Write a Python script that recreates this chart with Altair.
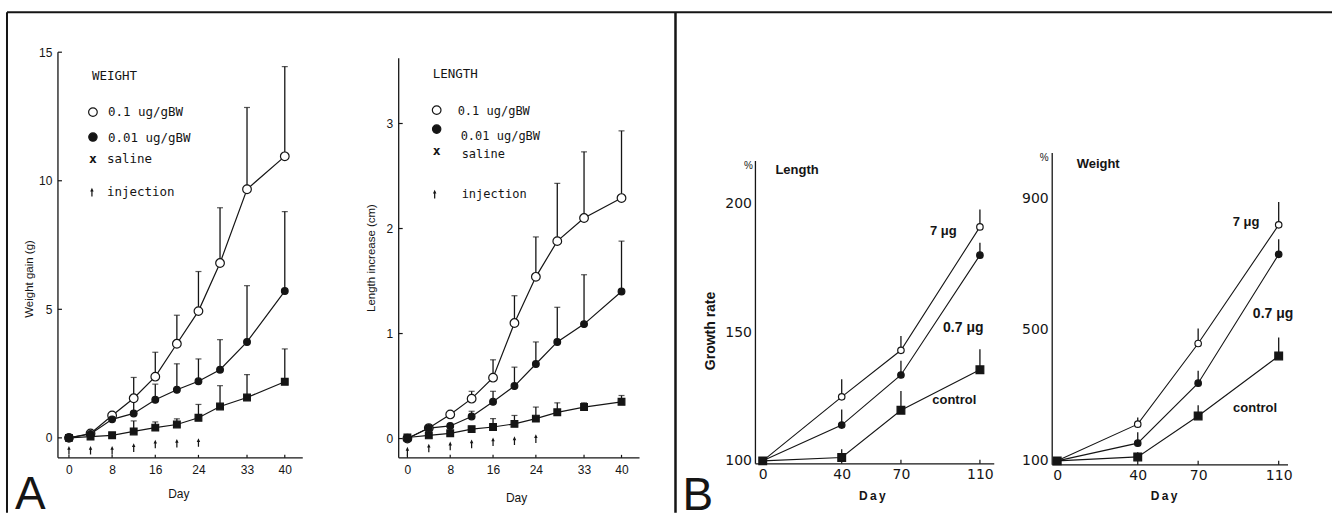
import altair as alt
import pandas as pd

SANS = "Liberation Sans"
WIDE = "DejaVu Sans"
MONO = "DejaVu Sans Mono"
INK = "#151515"

# ---------------- A: injections on days 0-24, follow-up to day 40 ----------------
days_a = [0, 4, 8, 12, 16, 20, 24, 28, 33, 40]
dose_labels_a = ["0.1 ug/gBW", "0.01 ug/gBW", "saline"]

weight_01 = [0, 0.17, 0.87, 1.54, 2.38, 3.66, 4.93, 6.80, 9.67, 10.95]
weight_01_sd = [0, 0, 0, 0.81, 0.95, 1.11, 1.54, 2.15, 3.18, 3.49]
weight_001 = [0, 0.15, 0.72, 0.95, 1.48, 1.87, 2.20, 2.65, 3.73, 5.71]
weight_001_sd = [0, 0, 0, 0.68, 0.61, 1.01, 0.87, 1.17, 2.19, 3.09]
weight_sal = [0, 0.05, 0.10, 0.25, 0.40, 0.52, 0.78, 1.22, 1.57, 2.18]
weight_sal_sd = [0, 0, 0, 0.41, 0.22, 0.22, 0.52, 0.81, 0.89, 1.28]

length_01 = [0, 0.10, 0.23, 0.38, 0.58, 1.10, 1.54, 1.88, 2.10, 2.29]
length_01_sd = [0, 0, 0, 0.07, 0.17, 0.26, 0.38, 0.55, 0.63, 0.64]
length_001 = [0, 0.10, 0.12, 0.21, 0.35, 0.50, 0.71, 0.92, 1.09, 1.40]
length_001_sd = [0, 0, 0, 0.05, 0.10, 0.18, 0.21, 0.33, 0.47, 0.48]
length_sal = [0.01, 0.03, 0.05, 0.09, 0.11, 0.14, 0.19, 0.25, 0.30, 0.35]
length_sal_sd = [0, 0, 0, 0, 0.08, 0.08, 0.11, 0.09, 0.04, 0.06]

injection_days = [0, 4, 8, 12, 16, 20, 24]
injection_y_weight = [-0.48, -0.48, -0.48, -0.38, -0.24, -0.21, -0.18]
injection_y_length = [-0.12, -0.09, -0.07, -0.05, -0.03, -0.02, 0.0]

day_ticks_a = [0, 8, 16, 24, 33, 40]
weight_ticks = [0, 5, 10, 15]
length_ticks = [0, 1, 2, 3]

# ---------------- B: growth rate (%) over 110 days ----------------
days_b = [0, 40, 70, 110]
dose_labels_b = ["7 μg", "0.7 μg", "control"]

rate_len_7 = [100, 124.9, 143.0, 191.0]
rate_len_7_sd = [0, 6.8, 5.6, 6.8]
rate_len_07 = [100, 113.9, 133.4, 180.0]
rate_len_07_sd = [0, 6.1, 5.5, 4.8]
rate_len_ctl = [100, 101.3, 119.7, 135.4]
rate_len_ctl_sd = [0, 3.2, 7.5, 8.0]

rate_wt_7 = [100, 212, 458, 820]
rate_wt_7_sd = [0, 20, 46, 70]
rate_wt_07 = [100, 154, 337, 730]
rate_wt_07_sd = [0, 33, 38, 46]
rate_wt_ctl = [100, 112, 237, 420]
rate_wt_ctl_sd = [0, 14, 33, 56]

day_ticks_b = [0, 40, 70, 110]
len_rate_ticks = [100, 150, 200]
wt_rate_ticks = [100, 500, 900]

ONE = pd.DataFrame({"k": [0]})


def long_table(days, series, sds, names):
    rows = []
    for name, vals, sd in zip(names, series, sds):
        for d, v, s in zip(days, vals, sd):
            rows.append({"day": d, "value": v, "sd": s, "group": name})
    return pd.DataFrame(rows)


def label(text, x, y, size, font=SANS, weight="normal", align="left",
          baseline="middle", angle=0):
    return alt.Chart(ONE).mark_text(
        text=text, font=font, fontSize=size, fontWeight=weight, align=align,
        baseline=baseline, color=INK, angle=angle,
    ).encode(x=alt.value(x), y=alt.value(y))


def symbol(shape, x, y, size, fill, sw=1.2):
    return alt.Chart(ONE).mark_point(
        shape=shape, size=size, filled=True, fill=fill, stroke=INK,
        strokeWidth=sw, opacity=1,
    ).encode(x=alt.value(x), y=alt.value(y))


def hline(x0, x1, y, w=1.3):
    return alt.Chart(ONE).mark_rule(color=INK, strokeWidth=w).encode(
        x=alt.value(x0), x2=alt.value(x1), y=alt.value(y))


def vline(x, y0, y1, w=1.3):
    return alt.Chart(ONE).mark_rule(color=INK, strokeWidth=w).encode(
        x=alt.value(x), y=alt.value(y0), y2=alt.value(y1))


ARROW = 75


def series_panel(df, names, W, H, xdom, ydom, xticks, yticks, ax, mk,
                 xline, ytop, extras):
    xs = alt.Scale(domain=xdom, nice=False, zero=False)
    ys = alt.Scale(domain=ydom, nice=False, zero=False)
    xaxis = alt.Axis(values=xticks, title=None, labelFont=ax["font"],
                     labelFontSize=ax["xsize"], labelFontWeight=ax["weight"],
                     labelPadding=ax["xpad"], labelColor=INK, ticks=False,
                     domain=False, grid=False, labelFlush=False,
                     labelOverlap=False, format="d")
    yaxis = alt.Axis(values=yticks, title=None, labelFont=ax["font"],
                     labelFontSize=ax["ysize"], labelFontWeight=ax["weight"],
                     labelPadding=ax["ypad"], labelColor=INK, ticks=False,
                     domain=False, grid=False, labelFlush=False,
                     labelOverlap=False, format="d")

    def X(f):
        return alt.X(f, type="quantitative", scale=xs, axis=xaxis)

    def Y(f):
        return alt.Y(f, type="quantitative", scale=ys, axis=yaxis)

    base = alt.Chart(df)
    with_sd = base.transform_filter("datum.sd > 0").transform_calculate(
        top="datum.value + datum.sd")
    layers = [
        hline(0, xline, H),
        vline(0, ytop, H),
        alt.Chart(pd.DataFrame({"t": xticks})).mark_rule(
            color=INK, strokeWidth=1.2).encode(
            x=X("t"), y=alt.value(H), y2=alt.value(H - mk["tick"])),
        with_sd.mark_rule(color=INK, strokeWidth=mk["ew"]).encode(
            x=X("day"), y=Y("value"), y2=alt.Y2("top")),
    ]
    if mk["ytick"] > 0:
        layers.append(alt.Chart(pd.DataFrame({"t": yticks})).mark_rule(
            color=INK, strokeWidth=1.2).encode(
            y=Y("t"), x=alt.value(0), x2=alt.value(mk["ytick"])))
    if mk["cap"] > 0:
        layers.append(with_sd.mark_tick(
            orient="horizontal", size=mk["cap"], thickness=1.2, color=INK
        ).encode(x=X("day"), y=Y("top")))
    layers.append(base.mark_line(color=INK, strokeWidth=mk["lw"]).encode(
        x=X("day"), y=Y("value"), detail="group:N"))
    styles = [("circle", mk["open"], "white"),
              ("circle", mk["dot"], INK),
              ("square", mk["sq"], INK)]
    for name, (shape, size, fill) in zip(names, styles):
        layers.append(base.transform_filter(alt.datum.group == name).mark_point(
            shape=shape, size=size, filled=True, fill=fill, stroke=INK,
            strokeWidth=1.2, opacity=1,
        ).encode(x=X("day"), y=Y("value")))
    layers.extend(extras(X, Y))
    return alt.layer(*layers).properties(width=W, height=H)


AX_A = {"font": SANS, "xsize": 12, "ysize": 12, "weight": "normal",
        "xpad": 7, "ypad": 6}
MK_A = {"open": 75, "dot": 45, "sq": 45, "lw": 1.2, "ew": 1.3, "cap": 6,
        "tick": 3, "ytick": 4}
AX_B = {"font": WIDE, "xsize": 14, "ysize": 14, "weight": "normal",
        "xpad": 4, "ypad": 4}
MK_B = {"open": 42, "dot": 42, "sq": 60, "lw": 1.1, "ew": 1.3, "cap": 0,
        "tick": 4, "ytick": 0}


def injections(y_values):
    def make(X, Y):
        df = pd.DataFrame({"day": injection_days, "y": y_values})
        return [alt.Chart(df).mark_point(
            shape="arrow", size=ARROW, filled=True, color=INK, opacity=1
        ).encode(x=X("day"), y=Y("y"))]
    return make


def arrow_key(x, y):
    return alt.Chart(ONE).mark_point(
        shape="arrow", size=ARROW, filled=True, color=INK, opacity=1
    ).encode(x=alt.value(x), y=alt.value(y))


# ---- A, weight ----
W0, H0 = 341, 407
weight_df = long_table(days_a, [weight_01, weight_001, weight_sal],
                       [weight_01_sd, weight_001_sd, weight_sal_sd],
                       dose_labels_a)


def extras_a_weight(X, Y):
    return injections(injection_y_weight)(X, Y) + [
        label("WEIGHT", 34, 25, 12.5, font=MONO),
        symbol("circle", 35, 61, 75, "white"),
        label(dose_labels_a[0], 50, 61, 12.5, font=MONO),
        symbol("circle", 35, 86, 70, INK),
        label(dose_labels_a[1], 50, 87, 12.5, font=MONO),
        label("x", 35, 108, 13, font=MONO, weight="bold", align="center"),
        label(dose_labels_a[2], 49, 108, 12.5, font=MONO),
        arrow_key(34, 141),
        label("injection", 49, 141, 12.5, font=MONO),
        label("Weight gain (g)", -28, 228, 11.5, angle=270, align="center"),
        label("Day", 121, 443, 12, align="center"),
        label("A", -43, 458, 46, baseline="alphabetic"),
        # figure frame and the divider between A and B
        vline(-51, -39, 462, 2),
        hline(-51, 1275, -39, 2),
        vline(618, -39, 462, 2.5),
    ]


panel_a_weight = series_panel(
    weight_df, dose_labels_a, W0, H0,
    [-11 / 5.4, (W0 - 11) / 5.4], [-20 / 25.73, 387 / 25.73],
    day_ticks_a, weight_ticks, AX_A, MK_A, 245, 1, extras_a_weight)

# ---- A, length ----
W1, H1 = 357, 407
length_df = long_table(days_a, [length_01, length_001, length_sal],
                       [length_01_sd, length_001_sd, length_sal_sd],
                       dose_labels_a)


def extras_a_length(X, Y):
    return injections(injection_y_length)(X, Y) + [
        label("LENGTH", 34, 23, 12.5, font=MONO),
        symbol("circle", 38, 59, 75, "white"),
        label(dose_labels_a[0], 59, 60, 12, font=MONO),
        symbol("circle", 38, 78, 70, INK),
        label(dose_labels_a[1], 62, 85, 12, font=MONO),
        label("x", 38, 100, 13, font=MONO, weight="bold", align="center"),
        label(dose_labels_a[2], 63, 103, 12, font=MONO),
        arrow_key(36, 143),
        label("injection", 63, 143, 12, font=MONO),
        label("Length increase (cm)", -27, 207, 11.5, angle=270,
              align="center"),
        label("Day", 118, 447, 12, align="center"),
    ]


panel_a_length = series_panel(
    length_df, dose_labels_a, W1, H1,
    [-8.7 / 5.357, (W1 - 8.7) / 5.357], [-19.3 / 105.1, 387.7 / 105.1],
    day_ticks_a, length_ticks, AX_A, MK_A, 241, 7, extras_a_length)

# ---- B, length ----
W2, H2 = 297, 413
rate_len_df = long_table(days_b, [rate_len_7, rate_len_07, rate_len_ctl],
                         [rate_len_7_sd, rate_len_07_sd, rate_len_ctl_sd],
                         dose_labels_b)


def extras_b_length(X, Y):
    return [
        label("%", -7, 115, 10, align="center"),
        label("Length", 20, 119, 13, weight="bold"),
        label("Growth  rate", -44, 280, 14, weight="bold", angle=270,
              align="center"),
        label(dose_labels_b[0], 188, 180, 13, weight="bold", align="center"),
        label(dose_labels_b[1], 208, 277, 14, weight="bold", align="center"),
        label(dose_labels_b[2], 199, 349, 13, weight="bold", align="center"),
        label("D\u2009a\u2009y", 117, 445, 12, weight="bold", align="center"),
        label("B", -73, 459, 46, baseline="alphabetic"),
    ]


panel_b_length = series_panel(
    rate_len_df, dose_labels_b, W2, H2,
    [-7.3 / 1.976, (W2 - 7.3) / 1.976], [100 - 3 / 2.573, 100 + 410 / 2.573],
    day_ticks_b, len_rate_ticks, AX_B, MK_B, 239, 110, extras_b_length)

# ---- B, weight ----
W3, H3 = 236, 414
rate_wt_df = long_table(days_b, [rate_wt_7, rate_wt_07, rate_wt_ctl],
                        [rate_wt_7_sd, rate_wt_07_sd, rate_wt_ctl_sd],
                        dose_labels_b)


def extras_b_weight(X, Y):
    return [
        label("%", -8, 107, 10, align="center"),
        label("Weight", 46, 113, 13, weight="bold", align="center"),
        label(dose_labels_b[0], 194, 171, 13, weight="bold", align="center"),
        label(dose_labels_b[1], 221, 263, 14, weight="bold", align="center"),
        label(dose_labels_b[2], 203, 357, 13, weight="bold", align="center"),
        label("D\u2009a\u2009y", 112, 445, 12, weight="bold", align="center"),
    ]


panel_b_weight = series_panel(
    rate_wt_df, dose_labels_b, W3, H3,
    [-5 / 2.015, (W3 - 5) / 2.015], [100 - 4 / 0.328, 100 + 410 / 0.328],
    day_ticks_b, wt_rate_ticks, AX_B, MK_B, 236, 102, extras_b_weight)

chart = alt.hconcat(
    panel_a_weight, panel_a_length, panel_b_length, panel_b_weight,
    spacing=0, bounds="flush",
).properties(
    padding={"left": 6, "top": 10, "right": 0, "bottom": 0},
    background="white",
).configure_view(strokeWidth=0, stroke="transparent")

chart.save("out.html", embed_options={"renderer": "svg", "actions": False})
